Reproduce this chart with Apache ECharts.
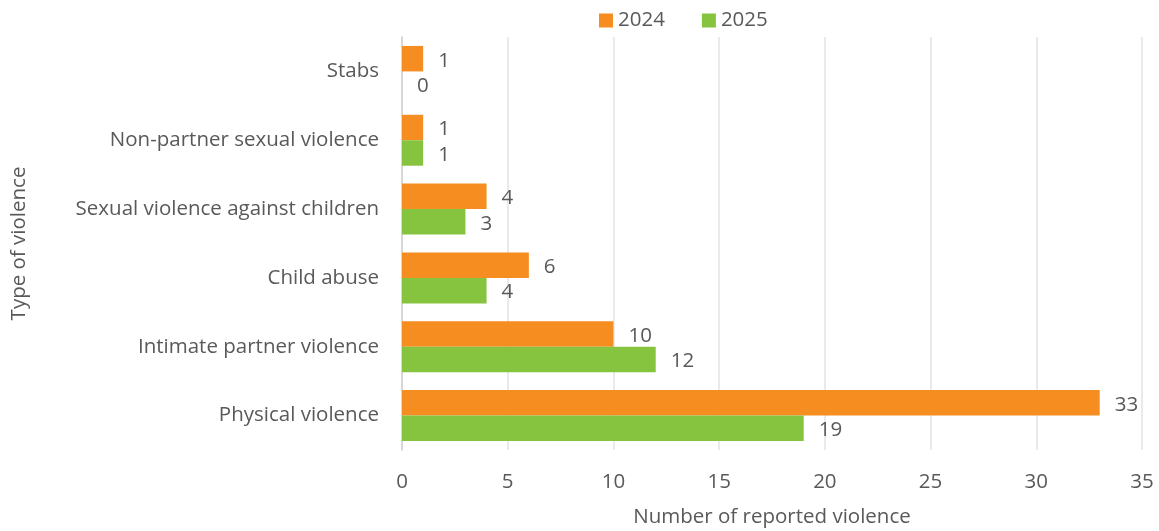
<!DOCTYPE html>
<html>
<head>
<meta charset="utf-8">
<script src="https://cdn.jsdelivr.net/npm/echarts@6/dist/echarts.min.js"></script>
<style>
  html, body { margin: 0; padding: 0; background: #fff; }
  #chart { width: 1159px; height: 531px; }
</style>
</head>
<body>
<div id="chart"></div>
<script>
// Reported cases by type of violence, 2024 vs 2025
const categories = [
  'Physical violence',
  'Intimate partner violence',
  'Child abuse',
  'Sexual violence against children',
  'Non-partner sexual violence',
  'Stabs'
];
const values2024 = [33, 10, 6, 4, 1, 1];
const values2025 = [19, 12, 4, 3, 1, 0];
const xTicks = [0, 5, 10, 15, 20, 25, 30, 35];

const FONT = 'Open Sans';
const TEXT = '#595959';
const SIZE = 20.5;

const chart = echarts.init(document.getElementById('chart'), null, { renderer: 'canvas' });

const labelStyle = {
  show: true,
  position: 'right',
  distance: 15,
  offset: [0, 2],
  color: TEXT,
  fontFamily: FONT,
  fontSize: SIZE
};

chart.setOption({
  animation: false,
  textStyle: { fontFamily: FONT, color: TEXT },
  legend: {
    top: 5,
    left: 594,
    itemWidth: 14,
    itemHeight: 14,
    itemGap: 37,
    icon: 'rect',
    textStyle: { color: TEXT, fontFamily: FONT, fontSize: SIZE },
    data: ['2024', '2025']
  },
  grid: { left: 402, right: 17, top: 37, bottom: 81, outerBoundsMode: 'none', containLabel: false },
  xAxis: {
    type: 'value',
    min: xTicks[0],
    max: xTicks[xTicks.length - 1],
    interval: 5,
    name: 'Number of reported violence',
    nameLocation: 'middle',
    nameGap: 57,
    nameTextStyle: { color: TEXT, fontFamily: FONT, fontSize: SIZE },
    axisLine: { show: false },
    axisTick: { show: false },
    axisLabel: { color: TEXT, fontFamily: FONT, fontSize: SIZE, margin: 22 },
    splitLine: { show: true, lineStyle: { color: '#e3e3e3', width: 1.5 } }
  },
  yAxis: {
    type: 'category',
    data: categories,
    name: 'Type of violence',
    nameLocation: 'middle',
    nameGap: 372,
    nameRotate: 90,
    nameTextStyle: { color: TEXT, fontFamily: FONT, fontSize: SIZE },
    axisLine: { show: true, lineStyle: { color: '#d0d0d0', width: 1.5 } },
    axisTick: { show: false },
    axisLabel: { color: TEXT, fontFamily: FONT, fontSize: SIZE, margin: 23, padding: [4, 0, 0, 0] },
    splitLine: { show: false }
  },
  series: [
    {
      name: '2024',
      type: 'bar',
      data: values2024,
      barGap: '0%',
      barCategoryGap: '26%',
      itemStyle: { color: '#F68D20' },
      label: labelStyle
    },
    {
      name: '2025',
      type: 'bar',
      data: values2025,
      barGap: '0%',
      barCategoryGap: '26%',
      itemStyle: { color: '#86C440' },
      label: labelStyle
    }
  ]
});
</script>
</body>
</html>
